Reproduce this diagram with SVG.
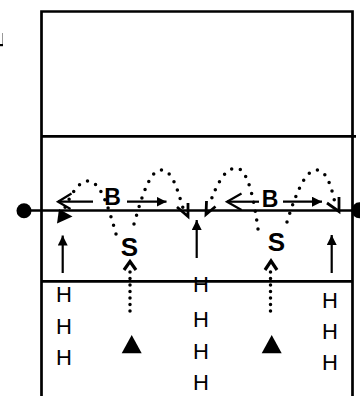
<svg xmlns="http://www.w3.org/2000/svg" width="360" height="396" viewBox="0 0 360 396">
<defs>
<style>
.ln{stroke:#000;stroke-width:2.7;fill:none}
.ar{stroke:#000;stroke-width:2.2;fill:none}
.dot{stroke:#000;stroke-width:3.5;fill:none;stroke-dasharray:0 9;stroke-linecap:round}
.hd{stroke:#000;stroke-width:2.8;fill:none;stroke-linejoin:miter}
.h{font-family:"Liberation Sans",Arial,sans-serif;font-size:22px;fill:#000;text-anchor:middle}
.b{font-family:"Liberation Sans",Arial,sans-serif;font-size:23px;font-weight:bold;fill:#000;text-anchor:middle}
.s{font-family:"Liberation Sans",Arial,sans-serif;font-size:26px;font-weight:bold;fill:#000;text-anchor:middle}
</style>
<marker id="fh" viewBox="0 0 10 10" refX="10" refY="5" markerWidth="10" markerHeight="10" markerUnits="userSpaceOnUse" orient="auto"><path d="M0,0 L10,5 L0,10 Z" fill="#000"/></marker>
</defs>
<rect width="360" height="396" fill="#fff"/>
<g id="corner-mark">
<line x1="2.5" y1="33" x2="2.5" y2="44" stroke="#999" stroke-width="1"/>
<rect x="0" y="44" width="3" height="2.2" fill="#000"/>
</g>
<g id="court">
<path class="ln" d="M41.5,396 V11.5 H352.5 V396"/>
<line class="ln" x1="41" y1="136.3" x2="356" y2="136.3"/>
<line class="ln" x1="41" y1="281.3" x2="352.5" y2="281.3"/>
</g>
<g id="net">
<line class="ln" x1="24" y1="210.5" x2="360" y2="210.5"/>
<circle cx="24" cy="210.8" r="7.5" fill="#000"/>
<circle cx="359.5" cy="210.3" r="8" fill="#000"/>
</g>
<g id="connectors">
<path class="dot" d="M116,234 C108,205 100,181 88,181 C78,181 70,196 62,214"/>
<path class="dot" d="M134,224 C142,196 150,170 161,170 C172,170 177,188 183,208"/>
<path class="dot" d="M258,229 C254,200 248,168 236,168 C225,168 216,185 209,206"/>
<path class="dot" d="M287,222 C295,196 305,170 316,170 C327,170 331,186 335,203"/>
<polygon points="57,223.5 59,209 72.5,216.5" fill="#000"/>
<polyline class="hd" points="177,207 188,216.5 188,203"/>
<polyline class="hd" points="215.5,206.5 206,214.5 206.5,201"/>
<polyline class="hd" points="327,203 339,211.5 339,197"/>
<line class="ar" x1="93" y1="201.7" x2="58" y2="201.7"/>
<polyline class="ar" points="71.5,193.5 58,201.7 70.5,209"/>
<line class="ar" x1="127" y1="201.7" x2="166.5" y2="201.7" marker-end="url(#fh)"/>
<line class="ar" x1="259" y1="201.7" x2="227" y2="201.7"/>
<polyline class="ar" points="241.5,193.5 227,201.7 241.5,210"/>
<line class="ar" x1="283" y1="201.7" x2="322" y2="201.7" marker-end="url(#fh)"/>
<line class="ar" x1="62.7" y1="273" x2="62.7" y2="235.5" marker-end="url(#fh)"/>
<line class="ar" x1="196.7" y1="258" x2="196.7" y2="220" marker-end="url(#fh)"/>
<line class="ar" x1="331.7" y1="273" x2="331.7" y2="235" marker-end="url(#fh)"/>
<line class="dot" x1="130" y1="272" x2="130" y2="316" style="stroke-dasharray:0 6.5"/>
<line class="dot" x1="270.5" y1="272" x2="270.5" y2="314" style="stroke-dasharray:0 6.5"/>
<polyline class="hd" points="124,270 130,261.5 136,270" style="stroke-width:3.2"/>
<polyline class="hd" points="265,270 271,261 277,270" style="stroke-width:3.2"/>
</g>
<g id="blocker-1"><text class="b" x="112.5" y="205">B</text></g>
<g id="blocker-2"><text class="b" x="270" y="206.5">B</text></g>
<g id="setter-1"><text class="s" x="129.5" y="255.5">S</text></g>
<g id="setter-2"><text class="s" x="276.5" y="250.5">S</text></g>
<g id="server-1"><polygon points="131.7,335 121.7,353.3 141.7,353.3" fill="#000"/></g>
<g id="server-2"><polygon points="271.7,335 261.7,353.3 281.7,353.3" fill="#000"/></g>
<g id="hitters-left">
<text class="h" x="64" y="302">H</text>
<text class="h" x="64" y="333.5">H</text>
<text class="h" x="64" y="365">H</text>
</g>
<g id="hitters-middle">
<text class="h" x="201" y="292">H</text>
<text class="h" x="201" y="327">H</text>
<text class="h" x="201" y="358.5">H</text>
<text class="h" x="201" y="390">H</text>
</g>
<g id="hitters-right">
<text class="h" x="330" y="308">H</text>
<text class="h" x="330" y="338.5">H</text>
<text class="h" x="330" y="370">H</text>
</g>
</svg>
